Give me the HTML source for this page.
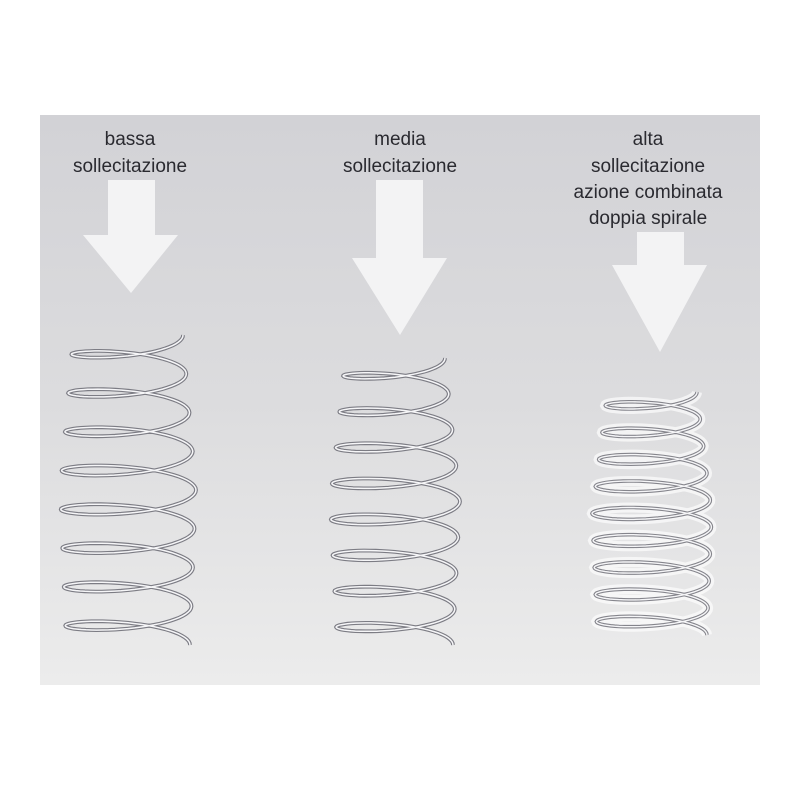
<!DOCTYPE html>
<html><head><meta charset="utf-8"><style>
body{margin:0;width:800px;height:800px;background:#fff;overflow:hidden}
svg{display:block}
text{font-family:"Liberation Sans",sans-serif;font-size:19px;fill:#2a2a30;text-anchor:middle}
</style></head><body>
<svg width="800" height="800">
<defs>
<linearGradient id="bg" x1="0" y1="0" x2="0" y2="1">
<stop offset="0" stop-color="#d2d2d6"/><stop offset="0.5" stop-color="#dcdcde"/><stop offset="1" stop-color="#ececec"/>
</linearGradient>
</defs>
<rect x="40" y="115" width="720" height="570" fill="url(#bg)"/>
<g><text x="130" y="145">bassa</text><text x="130" y="172">sollecitazione</text></g>
<g><text x="400" y="145">media</text><text x="400" y="172">sollecitazione</text></g>
<g><text x="648" y="145">alta</text><text x="648" y="172">sollecitazione</text><text x="648" y="198">azione combinata</text><text x="648" y="224">doppia spirale</text></g>
<polygon fill="#f3f3f4" points="108,180 155,180 155,235 178,235 131,293 83,235 108,235"/>
<polygon fill="#f3f3f4" points="376,180 423,180 423,258 447,258 400,335 352,258 376,258"/>
<polygon fill="#f3f3f4" points="637,232 684,232 684,265 707,265 660,352 612,265 637,265"/>
<g id="springs"></g>
</svg>
<script>
const g=document.getElementById('springs');
function spring(name,cx,top,bottom,rTop,rMid,rBot,turns,glow){
  const grp=document.createElementNS('http://www.w3.org/2000/svg','g');
  
  
  let d='';const N=turns*60;
  for(let i=0;i<=N;i++){
    const t=i/N, a=t*turns*2*Math.PI;
    const r=t<0.5?rTop+(rMid-rTop)*t*2:rMid+(rBot-rMid)*(t-0.5)*2;
    const x=cx+r*Math.cos(a), y=top+t*(bottom-top)+r*0.2*Math.sin(a);
    d+=(i?'L':'M')+x.toFixed(1)+','+y.toFixed(1);
  }
  const layers=glow?[['#ffffff',10,0.65],['#85858c',3.6,1],['#f6f6f8',1.4,1]]:[['#7c7c84',3.8,1],['#f6f6f8',1.5,1]];
  for(const [c,w,o] of layers){
    const p=document.createElementNS('http://www.w3.org/2000/svg','path');
    p.setAttribute('d',d);p.setAttribute('fill','none');p.setAttribute('stroke',c);
    p.setAttribute('stroke-width',w);p.setAttribute('opacity',o);
    grp.appendChild(p);
  }
  g.appendChild(grp);
}
spring('spring-low',128,335,645,55,68,62,8,false);
spring('spring-medium',395,358,645,50,65,58,8,false);
spring('spring-high',652,392,635,45,60,55,9,true);
</script>
</body></html>
